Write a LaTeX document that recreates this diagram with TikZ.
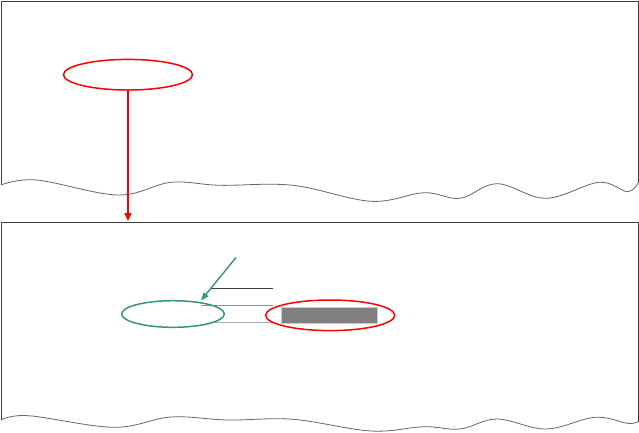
\documentclass[tikz,border=0pt]{standalone}
\usetikzlibrary{shapes.geometric,arrows.meta}
\definecolor{grn}{RGB}{52,153,102}
\definecolor{edge}{RGB}{64,64,64}
\definecolor{boxgray}{RGB}{128,128,128}
\tikzset{
  panel/.style={draw=edge, line width=0.9pt},
  wave/.style={draw=edge!80, line width=0.8pt},
  redell/.style={ellipse, draw=red, line width=1.5pt, inner sep=0pt},
  grnell/.style={ellipse, draw=grn, line width=1.5pt, inner sep=0pt},
  redarrow/.style={draw=red, line width=1.5pt, -{Triangle[length=8pt,width=7pt]}},
  grnarrow/.style={draw=grn, line width=1.4pt, -{Triangle[length=8pt,width=6pt]}},
}
\begin{document}
\begin{tikzpicture}[x=1pt,y=-1pt]
\useasboundingbox (0,0) rectangle (639,432);
% top panel
\draw[panel] (1,185) -- (1,1) -- (638,1) -- (638,183);
\draw[wave] plot[smooth, tension=0.6] coordinates {(1,185) (36.7,180) (118,195) (171,182.3) (220,185.3) (293,185.3) (371,201.3) (424,192.7) (460,198.3) (497,183.7) (546,198.3) (599,182.3) (627.5,191.7) (638,183)};
% bottom panel
\draw[panel] (1,420) -- (1,222.5) -- (638,222.5) -- (638,422);
\draw[wave] plot[smooth, tension=0.6] coordinates {(1,420) (28.5,415.7) (114,427.3) (171,417) (228,420) (293,419.3) (371,431) (424,426.7) (460,429) (497,419) (546,429) (595,417.3) (627.5,423.3) (638,421.7)};
% top content
\node[redell, minimum width=129pt, minimum height=30.6pt] (r1) at (128,74.7) {};
\coordinate (tgt) at (128,221);
\draw[redarrow] (r1.south) -- (tgt);
% bottom content
\draw[draw=edge, line width=1pt] (210,288.3) coordinate (l1a) -- (272.7,288.3) coordinate (l1b);
\draw[draw=gray!85, line width=1.2pt] (200.5,305.7) coordinate (l2a) -- (272.7,305.7) coordinate (l2b);
\draw[draw=gray!65, line width=1.2pt] (215,322.7) coordinate (l3a) -- (272.7,322.7) coordinate (l3b);
\node[grnell, minimum width=102.6pt, minimum height=26.6pt] (g1) at (173,314) {};
\node[draw=gray!40, fill=boxgray, line width=0.8pt, minimum width=96.3pt, minimum height=16pt, inner sep=0pt] (box) at (329.2,315.3) {};
\node[redell, minimum width=129pt, minimum height=30.6pt] (r2) at (330.2,315.3) {};
\coordinate (gs) at (236,257.5);
\coordinate (gt) at (201,300.5);
\draw[grnarrow] (gs) -- (gt);
\end{tikzpicture}
\end{document}
